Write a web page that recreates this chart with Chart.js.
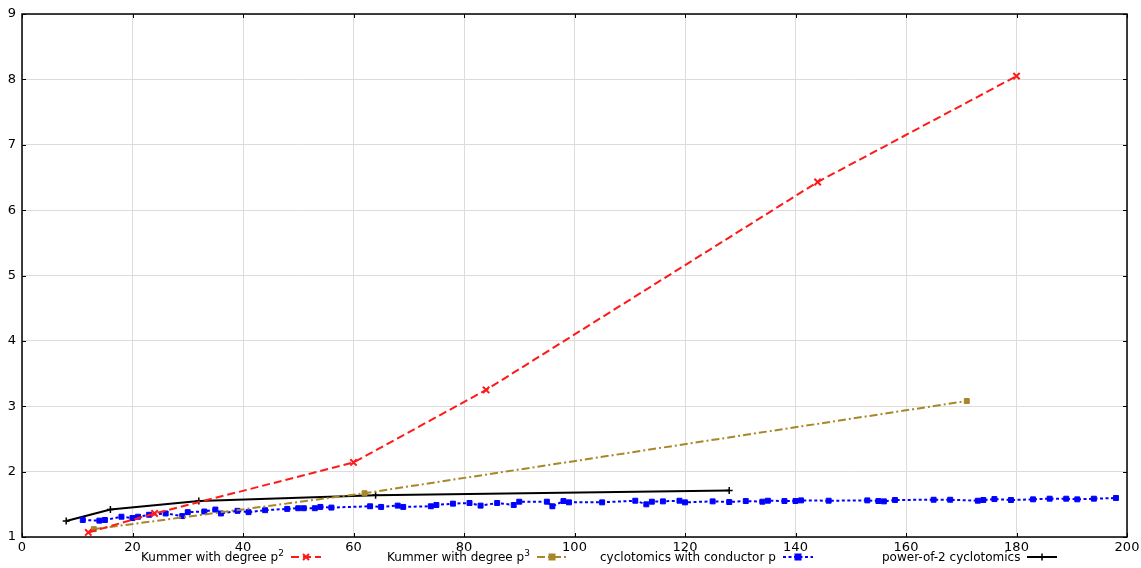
<!DOCTYPE html>
<html>
<head>
<meta charset="utf-8">
<script src="https://cdn.jsdelivr.net/npm/chart.js@4"></script>
<style>
  body { margin: 0; background: #fff; }
  #wrap { position: relative; width: 1141px; height: 568px; }
  .leg { position: absolute; top: 549px; height: 16px; line-height: 16px; font: 12px "DejaVu Sans", sans-serif; color: #000; display: flex; align-items: center; white-space: nowrap; }
  .leg sup { font-size: 9px; line-height: 0; vertical-align: 5px; }
  .leg svg { margin-left: 7px; }
</style>
</head>
<body>
<div id="wrap">
  <canvas id="chart" width="1141" height="568"></canvas>
</div>
<script>
// series
const kummer2X = [12, 24, 60, 84, 144, 180];
const kummer2Y = [1.07, 1.36, 2.14, 3.25, 6.43, 8.05];

const kummer3X = [13, 62, 171];
const kummer3Y = [1.12, 1.67, 3.08];

const cycloX = [11, 14, 15, 18, 20, 21, 23, 26, 29, 30, 33, 35, 36, 39, 41, 44, 48, 50, 51, 53, 54, 56,
  63, 65, 68, 69, 74, 75, 78, 81, 83, 86, 89, 90, 95, 96, 98, 99, 105, 111, 113, 114, 116, 119, 120,
  125, 128, 131, 134, 135, 138, 140, 141, 146, 153, 155, 156, 158, 165, 168, 173, 174, 176, 179, 183,
  186, 189, 191, 194, 198];
const cycloY = [1.26, 1.25, 1.26, 1.31, 1.29, 1.31, 1.34, 1.36, 1.32, 1.38, 1.39, 1.42, 1.36, 1.40, 1.38, 1.41, 1.43, 1.44, 1.44, 1.44, 1.46, 1.45,
  1.47, 1.46, 1.48, 1.46, 1.47, 1.49, 1.51, 1.52, 1.48, 1.52, 1.49, 1.54, 1.54, 1.47, 1.55, 1.53, 1.53, 1.555, 1.50, 1.54, 1.545, 1.555, 1.53,
  1.545, 1.535, 1.55, 1.54, 1.555, 1.55, 1.55, 1.56, 1.555, 1.56, 1.55, 1.545, 1.566, 1.57, 1.57, 1.555, 1.566, 1.58, 1.566, 1.576,
  1.586, 1.586, 1.576, 1.586, 1.597];

const pow2X = [8, 16, 32, 64, 128];
const pow2Y = [1.245, 1.42, 1.55, 1.64, 1.71];

const xTicks = [0, 20, 40, 60, 80, 100, 120, 140, 160, 180, 200];
const yTicks = [1, 2, 3, 4, 5, 6, 7, 8, 9];

const legendNames = [['Kummer with degree p', '2'], ['Kummer with degree p', '3'], ['cyclotomics with conductor p', ''], ['power-of-2 cyclotomics', '']];
const legendLeft = [141, 387, 600, 882];

function pts(xs, ys) {
  return xs.map((x, i) => ({ x: x, y: ys[i] }));
}

// box round the plot plus matplotlib-style inward ticks
const frameTicks = {
  id: 'frameTicks',
  afterDraw(chart) {
    const c = chart.ctx, a = chart.chartArea;
    const xs = chart.scales.x, ys = chart.scales.y;
    c.save();
    c.strokeStyle = '#000';
    c.lineWidth = 1;
    c.beginPath();
    xTicks.forEach(v => {
      const p = Math.round(xs.getPixelForValue(v)) + 0.5;
      c.moveTo(p, a.bottom); c.lineTo(p, a.bottom - 4);
      c.moveTo(p, a.top); c.lineTo(p, a.top + 4);
    });
    yTicks.forEach(v => {
      const p = Math.round(ys.getPixelForValue(v)) + 0.5;
      c.moveTo(a.left, p); c.lineTo(a.left + 4, p);
      c.moveTo(a.right, p); c.lineTo(a.right - 4, p);
    });
    c.stroke();
    c.lineWidth = 1.5;
    c.strokeRect(a.left, a.top, a.right - a.left, a.bottom - a.top);
    c.restore();
  }
};

const tickFont = { family: 'DejaVu Sans', size: 13 };

new Chart(document.getElementById('chart'), {
  type: 'line',
  data: {
    datasets: [
      {
        label: 'Kummer with degree p2',
        data: pts(kummer2X, kummer2Y),
        borderColor: '#ff1a1a', backgroundColor: '#ff1a1a',
        borderWidth: 2, borderDash: [8, 4],
        pointStyle: 'crossRot', pointRadius: 4.5, pointBorderWidth: 2
      },
      {
        label: 'Kummer with degree p3',
        data: pts(kummer3X, kummer3Y),
        borderColor: '#a8862a', backgroundColor: '#a8862a',
        borderWidth: 2, borderDash: [8, 3, 2, 3],
        pointStyle: 'rect', pointRadius: 3.5, pointBorderWidth: 1
      },
      {
        label: 'cyclotomics with conductor p',
        data: pts(cycloX, cycloY),
        borderColor: '#0000ff', backgroundColor: '#0000ff',
        borderWidth: 2, borderDash: [3, 2.5],
        pointStyle: 'rect', pointRadius: 3.5, pointBorderWidth: 1
      },
      {
        label: 'power-of-2 cyclotomics',
        data: pts(pow2X, pow2Y),
        borderColor: '#000', backgroundColor: '#000',
        borderWidth: 2,
        pointStyle: 'cross', pointRadius: 3.5, pointBorderWidth: 1.5
      }
    ]
  },
  options: {
    responsive: false,
    animation: false,
    layout: { padding: { top: 14, right: 14, left: 0, bottom: 0 } },
    plugins: { legend: { display: false }, tooltip: { enabled: false } },
    scales: {
      x: {
        type: 'linear', min: 0, max: 200,
        afterBuildTicks: s => { s.ticks = xTicks.map(v => ({ value: v })); },
        afterFit: s => { s.height = 31; s.paddingLeft = 0; s.paddingRight = 0; },
        grid: { color: '#dcdcdc', drawTicks: false },
        border: { display: false },
        ticks: { color: '#000', font: tickFont, padding: 3, maxRotation: 0 }
      },
      y: {
        min: 1, max: 9,
        afterBuildTicks: s => { s.ticks = yTicks.map(v => ({ value: v })); },
        afterFit: s => { s.width = 22; s.paddingTop = 0; s.paddingBottom = 0; },
        grid: { color: '#dcdcdc', drawTicks: false },
        border: { display: false },
        ticks: { color: '#000', font: tickFont, padding: 6 }
      }
    }
  },
  plugins: [frameTicks]
});

// legend below the plot: text first, line sample after it
const samples = [
  '<line x1="0" y1="5" x2="30" y2="5" stroke="#ff1a1a" stroke-width="2" stroke-dasharray="8,4"/><path d="M12 2 L18 8 M18 2 L12 8" stroke="#ff1a1a" stroke-width="2"/>',
  '<line x1="0" y1="5" x2="30" y2="5" stroke="#a8862a" stroke-width="2" stroke-dasharray="8,3,2,3"/><rect x="11.5" y="1.5" width="7" height="7" fill="#a8862a"/>',
  '<line x1="0" y1="5" x2="30" y2="5" stroke="#0000ff" stroke-width="2" stroke-dasharray="3,2.5"/><rect x="11.5" y="1.5" width="7" height="7" fill="#0000ff"/>',
  '<line x1="0" y1="5" x2="30" y2="5" stroke="#000" stroke-width="2"/><path d="M15 1.5 L15 8.5" stroke="#000" stroke-width="1.5"/>'
];
const wrap = document.getElementById('wrap');
legendNames.forEach((n, i) => {
  const d = document.createElement('div');
  d.className = 'leg';
  d.style.left = legendLeft[i] + 'px';
  d.innerHTML = '<span>' + n[0] + (n[1] ? '<sup>' + n[1] + '</sup>' : '') + '</span>' +
    '<svg width="30" height="10">' + samples[i] + '</svg>';
  wrap.appendChild(d);
});
</script>
</body>
</html>
